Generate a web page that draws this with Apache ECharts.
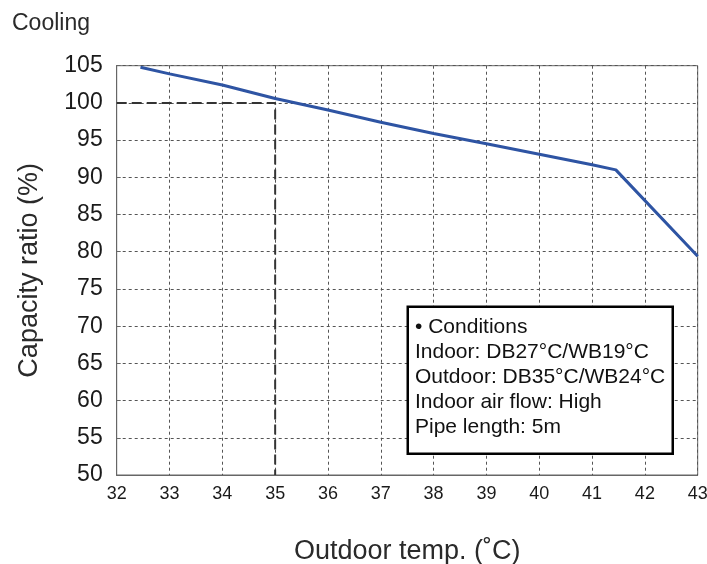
<!DOCTYPE html>
<html>
<head>
<meta charset="utf-8">
<script src="https://cdn.jsdelivr.net/npm/echarts@6/dist/echarts.min.js"></script>
<style>html,body{margin:0;padding:0;background:#fff;}#c{width:707px;height:564px;}</style>
</head>
<body>
<div id="c"></div>
<script>
var titleText = "Cooling";
var xAxisName = "Outdoor temp. (˚C)";
var yAxisName = "Capacity ratio (%)";
var tempX = [32.45, 33, 34, 35, 36, 37, 38, 39, 40, 41, 41.45, 43];
var capacityY = [104.8, 103.9, 102.4, 100.6, 99.05, 97.4, 95.9, 94.5, 93.1, 91.7, 91.0, 79.4];
var refX = [32, 35, 35];
var refY = [100, 100, 50];
var conditionLines = [
  "• Conditions",
  "Indoor: DB27°C/WB19°C",
  "Outdoor: DB35°C/WB24°C",
  "Indoor air flow: High",
  "Pipe length: 5m"
];

var font = "'Liberation Sans', Arial, sans-serif";
var txt = "#2a2a2a";
var chart = echarts.init(document.getElementById('c'), null, {renderer: 'canvas'});
chart.setOption({
  animation: false,
  backgroundColor: '#fff',
  title: {
    text: titleText, left: 7, top: 7,
    textStyle: {fontFamily: font, fontSize: 23, fontWeight: 'normal', color: txt}
  },
  grid: {
    left: 116.7, right: 9.3, top: 65.7, bottom: 89,
    show: true, borderColor: '#666', borderWidth: 1, containLabel: false,
    outerBoundsMode: 'none'
  },
  xAxis: {
    type: 'value', min: 32, max: 43, interval: 1,
    name: xAxisName, nameLocation: 'middle', nameGap: 63,
    nameTextStyle: {fontFamily: font, fontSize: 27, color: txt},
    axisLine: {show: true, lineStyle: {color: '#666', width: 1}},
    axisTick: {show: false},
    axisLabel: {fontFamily: font, fontSize: 18, color: '#1a1a1a', margin: 10},
    splitLine: {show: true, lineStyle: {color: '#555', width: 1, type: [3, 3]}}
  },
  yAxis: {
    type: 'value', min: 50, max: 105, interval: 5,
    name: yAxisName, nameLocation: 'middle', nameGap: 74, nameRotate: 90,
    nameTextStyle: {fontFamily: font, fontSize: 27, color: txt},
    axisLine: {show: true, lineStyle: {color: '#666', width: 1}},
    axisTick: {show: true, inside: true, length: 4, lineStyle: {color: '#666'}},
    axisLabel: {fontFamily: font, fontSize: 23, color: '#1a1a1a', margin: 14},
    splitLine: {show: true, lineStyle: {color: '#555', width: 1, type: [3, 3]}}
  },
  series: [
    {
      type: 'line', symbol: 'none', silent: true, z: 3,
      data: refX.map(function (x, i) { return [x, refY[i]]; }),
      lineStyle: {color: '#333', width: 2, type: [10, 5]}
    },
    {
      type: 'line', symbol: 'none', silent: true, z: 4,
      data: tempX.map(function (x, i) { return [x, capacityY[i]]; }),
      lineStyle: {color: '#2e54a3', width: 3}
    }
  ],
  graphic: [
    {type: 'rect', left: 406.5, top: 305.5, z: 100,
     shape: {x: 0, y: 0, width: 265, height: 147},
     style: {fill: '#ffffff', stroke: '#000', lineWidth: 2.5}},
    {type: 'text', left: 415, top: 315, z: 101,
     style: {text: conditionLines.join('\n'), fontFamily: font, fontSize: 21,
             lineHeight: 25, fill: '#111'}}
  ]
});
</script>
</body>
</html>
